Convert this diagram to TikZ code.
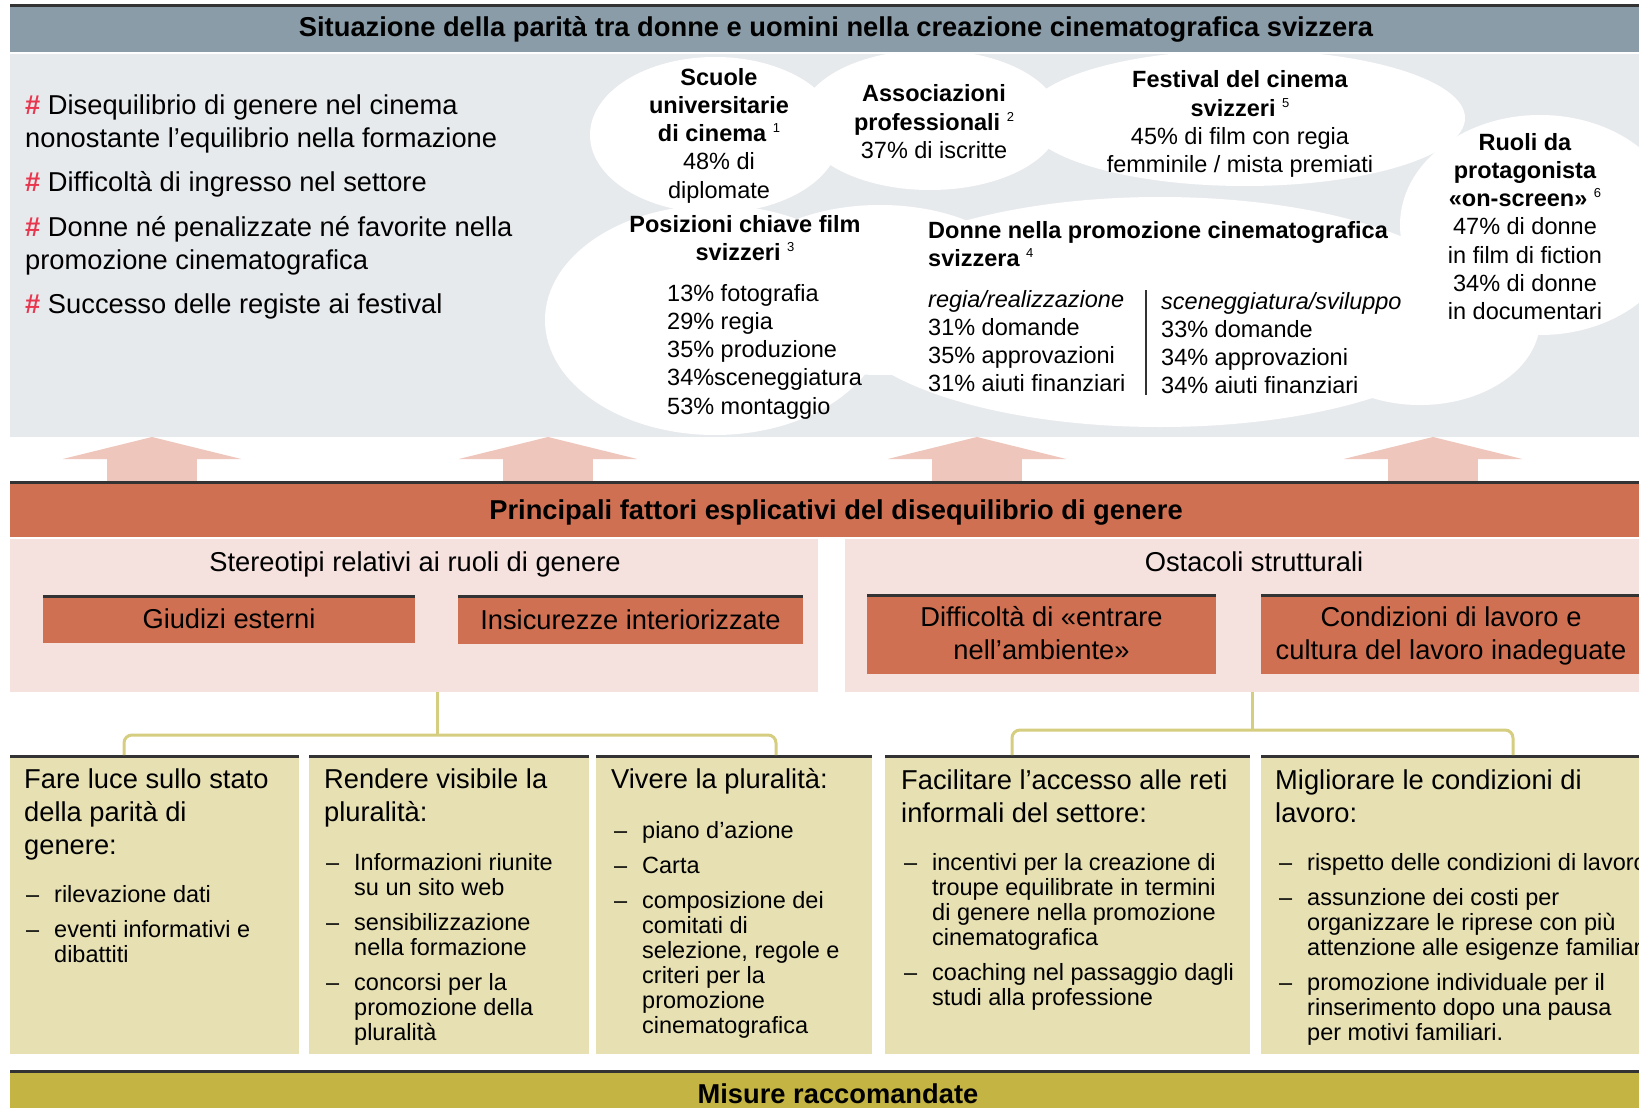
\documentclass[tikz,border=0pt]{standalone}
\usepackage{fontspec}
\setmainfont{Liberation Sans}
\usetikzlibrary{arrows.meta}

\definecolor{headgray}{HTML}{8A9CA8}
\definecolor{bggray}{HTML}{E7EAED}
\definecolor{rust}{HTML}{D07053}
\definecolor{rosebg}{HTML}{F5E1DD}
\definecolor{arrowrose}{HTML}{EEC6BB}
\definecolor{sand}{HTML}{E6E0B3}
\definecolor{olive}{HTML}{C3B443}
\definecolor{bracketolive}{HTML}{D5CD80}
\definecolor{hashred}{HTML}{E8364F}
\definecolor{darkline}{HTML}{333333}

\newcommand{\fontL}{\fontsize{27.3}{33}\selectfont}
\newcommand{\fontS}{\fontsize{23.5}{28.3}\selectfont}
\newcommand{\fontB}{\fontsize{23.5}{25}\selectfont}
\newcommand{\hashmark}{\textbf{\textcolor{hashred}{\#}}}
\newcommand{\fn}[1]{\raisebox{9pt}{\fontsize{13}{13}\selectfont\mdseries #1}}

\begin{document}
\begin{tikzpicture}[x=1pt, y=-1pt,
    box/.style={anchor=north west, inner sep=0pt, outer sep=0pt},
    topline/.style={path picture={\draw[darkline, line width=5pt]
        (path picture bounding box.north west) -- (path picture bounding box.north east);}},
    txt/.style={inner sep=0pt, anchor=base west},
    ctxt/.style={inner sep=0pt, anchor=base},
    bigarrow/.style={arrowrose, line width=90pt, -{Triangle[width=178pt, length=22pt]}},
    bracket/.style={bracketolive, line width=3pt, rounded corners=8pt}]
  \useasboundingbox (0,0) rectangle (1639,1108);
  \clip (0,0) rectangle (1639,1108);
  \fill[white] (0,0) rectangle (1639,1108);

  % situazione
  \node[box, fill=headgray, topline, minimum width=1652pt, minimum height=47pt] (situazione) at (10,5) {};
  \node[box, fill=bggray, minimum width=1652pt, minimum height=383pt] (stato) at (10,54) {};
  \begin{scope}
    \clip (stato.north west) rectangle (stato.south east);
    \foreach \cx/\cy/\rx/\ry in {715/135/125/78, 930/120/130/70, 1245/118/220/68, 1540/225/140/110,
        715/320/170/115, 880/290/150/85, 1160/312/320/115, 1420/320/120/85}
      \fill[white] (\cx,\cy) ellipse [x radius=\rx pt, y radius=\ry pt];
  \end{scope}

  % fattori
  \node[box, fill=rust, topline, minimum width=1652pt, minimum height=56pt] (fattori) at (10,481) {};
  \node[box, fill=rosebg, minimum width=808pt, minimum height=153pt] (stereotipi) at (10,539) {};
  \node[box, fill=rosebg, minimum width=817pt, minimum height=153pt] (ostacoli) at (845,539) {};
  \node[box, fill=rust, topline, minimum width=372pt, minimum height=48pt] (giudizi) at (43,595) {};
  \node[box, fill=rust, topline, minimum width=345pt, minimum height=49pt] (insicurezze) at (458,595) {};
  \node[box, fill=rust, topline, minimum width=349pt, minimum height=80pt] (ingresso) at (867,594) {};
  \node[box, fill=rust, topline, minimum width=380pt, minimum height=80pt] (condizioni) at (1261,594) {};

  % misure
  \begin{scope}[every node/.style={box, fill=sand, topline, minimum height=299pt}]
    \node[minimum width=289pt] (misura1) at (10,755) {};
    \node[minimum width=280pt] (misura2) at (309,755) {};
    \node[minimum width=276pt] (misura3) at (596,755) {};
    \node[minimum width=365pt] (misura4) at (885,755) {};
    \node[minimum width=401pt] (misura5) at (1261,755) {};
  \end{scope}
  \node[box, fill=olive, topline, minimum width=1652pt, minimum height=45pt] (misure) at (10,1070) {};

  \foreach \ax in {152,548,977,1433} {
    \coordinate (freccia) at (\ax,0);
    \draw[bigarrow] (fattori.north -| freccia) -- (stato.south -| freccia);
  }

  \coordinate (b1) at (124,0); \coordinate (b2) at (776,0); \coordinate (b3) at (437,0);
  \coordinate (b4) at (1012,0); \coordinate (b5) at (1513,0); \coordinate (b6) at (1252,0);
  \draw[bracket] (misura1.north -| b1) -- ++(0,-20) -| (misura3.north -| b2);
  \draw[bracket] (stereotipi.south -| b3) -- ++(0,43);
  \draw[bracket] (misura4.north -| b4) -- ++(0,-25) -| (misura5.north -| b5);
  \draw[bracket] (ostacoli.south -| b6) -- ++(0,38);

  % testi
  \node[ctxt] (titolo) at (836,37) {\fontL\bfseries Situazione della parità tra donne e uomini nella creazione cinematografica svizzera};
  \node[txt] (sintesi) at (25,114) {\fontL\begin{tabular}[t]{@{}l@{}}
      \hashmark{} Disequilibrio di genere nel cinema\\
      nonostante l’equilibrio nella formazione\\[11.5pt]
      \hashmark{} Difficoltà di ingresso nel settore\\[11.5pt]
      \hashmark{} Donne né penalizzate né favorite nella\\
      promozione cinematografica\\[11.5pt]
      \hashmark{} Successo delle registe ai festival\end{tabular}};
  \node[ctxt] (scuole) at (719,85) {\fontS\begin{tabular}[t]{@{}c@{}}
      \textbf{Scuole}\\ \textbf{universitarie}\\ \textbf{di cinema \fn{1}}\\ 48\% di\\ diplomate\end{tabular}};
  \node[ctxt] (associazioni) at (934,102) {\fontS\begin{tabular}[t]{@{}c@{}}
      \textbf{Associazioni}\\ \textbf{professionali \fn{2}}\\ 37\% di iscritte\end{tabular}};
  \node[ctxt] (festival) at (1240,88) {\fontS\begin{tabular}[t]{@{}c@{}}
      \textbf{Festival del cinema}\\ \textbf{svizzeri \fn{5}}\\ 45\% di film con regia\\ femminile / mista premiati\end{tabular}};
  \node[ctxt] (ruoli) at (1525,150) {\fontS\begin{tabular}[t]{@{}c@{}}
      \textbf{Ruoli da}\\ \textbf{protagonista}\\ \textbf{«on-screen» \fn{6}}\\ 47\% di donne\\ in film di fiction\\
      34\% di donne\\ in documentari\end{tabular}};
  \node[ctxt] (posizioni) at (745,232) {\fontS\begin{tabular}[t]{@{}c@{}}
      \textbf{Posizioni chiave film}\\ \textbf{svizzeri \fn{3}}\end{tabular}};
  \node[txt] (quote) at (667,301) {\fontS\begin{tabular}[t]{@{}l@{}}
      13\% fotografia\\ 29\% regia\\ 35\% produzione\\ 34\%sceneggiatura\\ 53\% montaggio\end{tabular}};
  \node[txt] (promozione) at (928,238) {\fontS\begin{tabular}[t]{@{}l@{}}
      \textbf{Donne nella promozione cinematografica}\\ \textbf{svizzera \fn{4}}\end{tabular}};
  \node[txt] (regia) at (928,307) {\fontS\begin{tabular}[t]{@{}l@{}}
      \textit{regia/realizzazione}\\ 31\% domande\\ 35\% approvazioni\\ 31\% aiuti finanziari\end{tabular}};
  \node[txt] (sviluppo) at (1161,309) {\fontS\begin{tabular}[t]{@{}l@{}}
      \textit{sceneggiatura/sviluppo}\\ 33\% domande\\ 34\% approvazioni\\ 34\% aiuti finanziari\end{tabular}};
  \draw[darkline, line width=1.2pt] (1146,290) -- (1146,395);

  \node[ctxt] at (836,519) {\fontL\bfseries Principali fattori esplicativi del disequilibrio di genere};
  \node[ctxt] at (415,571) {\fontL Stereotipi relativi ai ruoli di genere};
  \node[ctxt] at (1254,571) {\fontL Ostacoli strutturali};
  \node[ctxt] at (giudizi.center |- 0,628) {\fontL Giudizi esterni};
  \node[ctxt] at (insicurezze.center |- 0,629) {\fontL Insicurezze interiorizzate};
  \node[ctxt] at (ingresso.center |- 0,626) {\fontL\begin{tabular}[t]{@{}c@{}}Difficoltà di «entrare\\ nell’ambiente»\end{tabular}};
  \node[ctxt] at (condizioni.center |- 0,626) {\fontL\begin{tabular}[t]{@{}c@{}}Condizioni di lavoro e\\ cultura del lavoro inadeguate\end{tabular}};

  \node[txt] at (24,788) {\fontL\begin{tabular}[t]{@{}l@{}}Fare luce sullo stato\\ della parità di\\ genere:\end{tabular}};
  \node[txt] at (26,902) {\fontB\begin{tabular}[t]{@{}p{28pt}@{}l@{}}
      – & rilevazione dati\\[10pt]
      – & eventi informativi e\\ & dibattiti\end{tabular}};
  \node[txt] at (324,788) {\fontL\begin{tabular}[t]{@{}l@{}}Rendere visibile la\\ pluralità:\end{tabular}};
  \node[txt] at (326,870) {\fontB\begin{tabular}[t]{@{}p{28pt}@{}l@{}}
      – & Informazioni riunite\\ & su un sito web\\[10pt]
      – & sensibilizzazione\\ & nella formazione\\[10pt]
      – & concorsi per la\\ & promozione della\\ & pluralità\end{tabular}};
  \node[txt] at (611,788) {\fontL Vivere la pluralità:};
  \node[txt] at (614,838) {\fontB\begin{tabular}[t]{@{}p{28pt}@{}l@{}}
      – & piano d’azione\\[10pt]
      – & Carta\\[10pt]
      – & composizione dei\\ & comitati di\\ & selezione, regole e\\ & criteri per la\\ & promozione\\ & cinematografica\end{tabular}};
  \node[txt] at (901,789) {\fontL\begin{tabular}[t]{@{}l@{}}Facilitare l’accesso alle reti\\ informali del settore:\end{tabular}};
  \node[txt] at (904,870) {\fontB\begin{tabular}[t]{@{}p{28pt}@{}l@{}}
      – & incentivi per la creazione di\\ & troupe equilibrate in termini\\ & di genere nella promozione\\ & cinematografica\\[10pt]
      – & coaching nel passaggio dagli\\ & studi alla professione\end{tabular}};
  \node[txt] at (1275,789) {\fontL\begin{tabular}[t]{@{}l@{}}Migliorare le condizioni di\\ lavoro:\end{tabular}};
  \node[txt] at (1279,870) {\fontB\begin{tabular}[t]{@{}p{28pt}@{}l@{}}
      – & rispetto delle condizioni di lavoro\\[10pt]
      – & assunzione dei costi per\\ & organizzare le riprese con più\\ & attenzione alle esigenze familiari\\[10pt]
      – & promozione individuale per il\\ & rinserimento dopo una pausa\\ & per motivi familiari.\end{tabular}};
  \node[ctxt] at (838,1103) {\fontL\bfseries Misure raccomandate};
\end{tikzpicture}
\end{document}
